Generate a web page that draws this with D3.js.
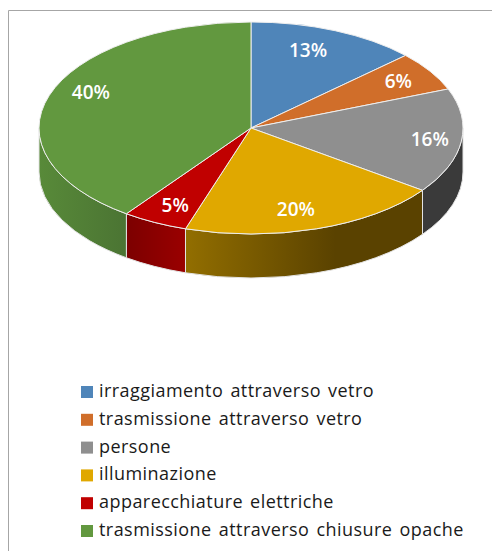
<!DOCTYPE html>
<html><head><meta charset="utf-8">
<script src="https://cdn.jsdelivr.net/npm/d3@7"></script>
<style>html,body{margin:0;padding:0;background:#fff}svg{display:block}</style></head>
<body><svg id="c" width="492" height="551"></svg>
<script>
const categories=["irraggiamento attraverso vetro","trasmissione attraverso vetro","persone","illuminazione","apparecchiature elettriche","trasmissione attraverso chiusure opache"];
const values=[13,6,16,20,5,40];
const labels=["13%","6%","16%","20%","5%","40%"];
const colors=["#4f85b9","#d06e2a","#8f8f8f","#e0a800","#c00000","#62983f"];
const wallStops=[["#2e4f70","#2e4f70"],["#7a4118","#7a4118"],["#3a3a3a","#3a3a3a"],["#926e00","#5a4200"],["#9a0000","#7c0000"],["#588a39","#4b7433"]];

const svg=d3.select("#c");
const W=492,H=551,cx=251,cy=128,R=212,squash=0.5,depth=88;
svg.append("path").attr("d",`M8.5 ${H}V10.5H${W}`).attr("fill","none").attr("stroke","#a6a6a6").attr("stroke-width",1);

const pie=d3.pie().sort(null).value(d=>d)(values);
const defs=svg.append("defs");
const g=svg.append("g").attr("transform",`translate(${cx},${cy}) scale(1,${squash})`);
const arc=d3.arc().innerRadius(0).outerRadius(R);
const px=a=>R*Math.sin(a);

pie.forEach((p,i)=>{
  const a0=Math.max(p.startAngle,Math.PI/2),a1=Math.min(p.endAngle,Math.PI*1.5);
  if(a1<=a0)return;
  const id="w"+i;
  const lg=defs.append("linearGradient").attr("id",id).attr("gradientUnits","userSpaceOnUse")
    .attr("x1",px(a0)).attr("x2",i===3?px(a0)-150:px(a1)).attr("y1",0).attr("y2",0);
  lg.append("stop").attr("offset",0).attr("stop-color",i===5?wallStops[i][1]:wallStops[i][0]);
  lg.append("stop").attr("offset",1).attr("stop-color",i===5?wallStops[i][0]:wallStops[i][1]);
  if(i===3){lg.attr("x1",px(a1)).attr("x2",px(a1)+150);}
  const c=d3.path();
  c.arc(0,0,R,a0-Math.PI/2,a1-Math.PI/2,false);
  c.lineTo(R*Math.sin(a1),-R*Math.cos(a1)+depth);
  c.arc(0,depth,R,a1-Math.PI/2,a0-Math.PI/2,true);
  c.closePath();
  g.append("path").attr("d",c.toString()).attr("fill",`url(#${id})`)
    .attr("stroke","#e4e4e4").attr("stroke-width",1).attr("vector-effect","non-scaling-stroke");
});
g.selectAll("path.top").data(pie).join("path").attr("class","top")
  .attr("d",arc).attr("fill",(d,i)=>colors[i])
  .attr("stroke","#eeeeee").attr("stroke-width",1).attr("vector-effect","non-scaling-stroke");

// label placement: radial factor and angular nudge (degrees) from each slice's mid angle
const labelRadius=[0.783,0.823,0.85,0.793,0.81,0.828];
const labelNudge=[-3.3,0,0,2.5,-0.8,6.2];
const mid=(d,i)=>(d.startAngle+d.endAngle)/2+labelNudge[i]*Math.PI/180;
svg.selectAll("text.lab").data(pie).join("text").attr("class","lab")
  .attr("x",(d,i)=>cx+R*labelRadius[i]*Math.sin(mid(d,i)))
  .attr("y",(d,i)=>cy-R*squash*labelRadius[i]*Math.cos(mid(d,i)))
  .attr("text-anchor","middle").attr("dominant-baseline","central")
  .attr("font-family","'Open Sans','Noto Sans',sans-serif").attr("font-weight",600).attr("font-size",19).attr("fill","#fff")
  .text((d,i)=>labels[i]);

const ly=d3.scalePoint().domain(categories).range([392,531]);
const lg=svg.selectAll("g.leg").data(categories).join("g").attr("class","leg").attr("transform",d=>`translate(81,${ly(d)})`);
lg.append("rect").attr("x",0).attr("y",-6).attr("width",12).attr("height",12).attr("fill",(d,i)=>colors[i]);
lg.append("text").attr("x",18).attr("y",-2).attr("dominant-baseline","central")
  .attr("font-family","'Open Sans','Noto Sans',sans-serif").attr("font-size",18).attr("letter-spacing",0.45).attr("word-spacing",2).attr("fill","#1a1a1a").text(d=>d);
</script></body></html>
